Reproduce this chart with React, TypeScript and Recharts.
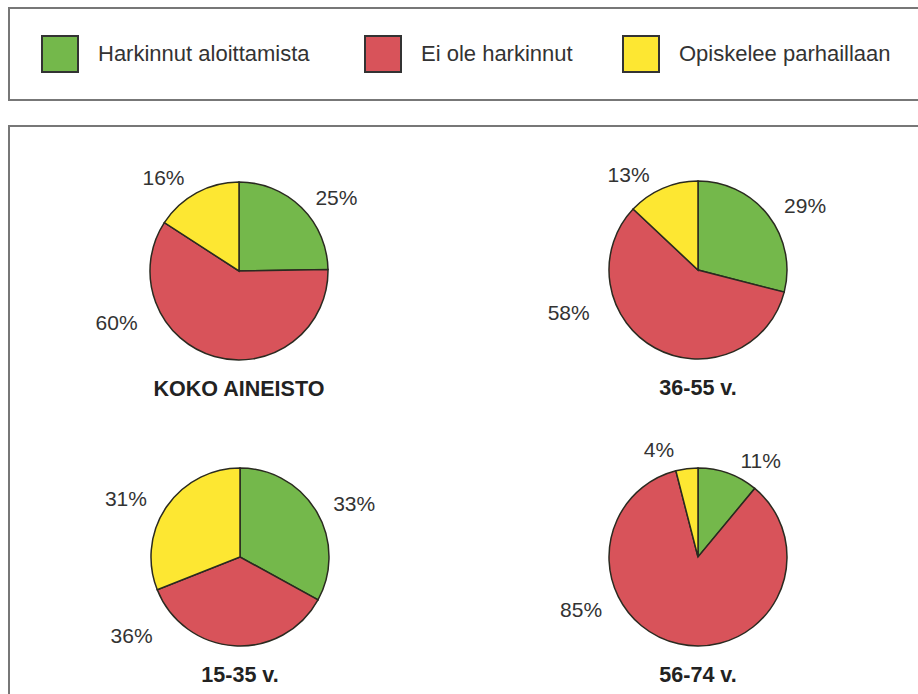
import { PieChart, Pie, Cell } from "recharts";

const categories = ["Harkinnut aloittamista", "Ei ole harkinnut", "Opiskelee parhaillaan"];
const groups = ["KOKO AINEISTO", "36-55 v.", "15-35 v.", "56-74 v."];
const kokoAineisto = [25, 60, 16];
const age36to55 = [29, 58, 13];
const age15to35 = [33, 36, 31];
const age56to74 = [11, 85, 4];

const colors = ["#74b84b", "#d8535a", "#fde732"];
const font = "'Liberation Sans', Arial, sans-serif";

// pie placement and hand-placed label spots (angle in degrees, distance from centre)
const pieCenters = [
  [239, 271],
  [698, 270],
  [240, 557],
  [698, 557],
];
const labelSpots = [
  [[37, 122], [203, 133], [129, 120]],
  [[31, 125], [198, 136], [126, 118]],
  [[25, 126], [216, 134], [153, 128]],
  [[57, 115], [204, 128], [110, 114]],
];

const series = [kokoAineisto, age36to55, age15to35, age56to74];

const RAD = Math.PI / 180;

function makeLabel(spots: number[][]) {
  return (props: any) => {
    const { cx, cy, index, value } = props;
    const [ang, dist] = spots[index];
    const x = cx + dist * Math.cos(ang * RAD);
    const y = cy - dist * Math.sin(ang * RAD);
    return (
      <text
        x={x}
        y={y}
        textAnchor="middle"
        dominantBaseline="central"
        fill="#333"
        fontSize={21}
        fontFamily={font}
      >
        {value}%
      </text>
    );
  };
}

export default function App() {
  return (
    <div style={{ position: "absolute", left: 0, top: 0, width: 918, height: 694, overflow: "hidden", background: "#fff" }}>
      {/* legend box */}
      <div
        style={{
          position: "absolute",
          left: 8,
          top: 7,
          width: 940,
          height: 90,
          border: "2px solid #777",
          boxSizing: "content-box",
        }}
      />
      {categories.map((c, i) => {
        const lefts = [41, 364, 622];
        return (
          <div key={c} style={{ position: "absolute", left: lefts[i], top: 35, height: 38, display: "flex", alignItems: "center" }}>
            <div style={{ width: 34, height: 34, background: colors[i], border: "2px solid #333" }} />
            <span style={{ marginLeft: 19, fontFamily: font, fontSize: 22, color: "#333" }}>{c}</span>
          </div>
        );
      })}
      {/* chart box */}
      <div
        style={{
          position: "absolute",
          left: 8,
          top: 125,
          width: 940,
          height: 600,
          border: "2px solid #777",
        }}
      />
      <div style={{ position: "absolute", left: 0, top: 0 }}>
        <PieChart width={918} height={694} margin={{ top: 0, right: 0, bottom: 0, left: 0 }}>
          {series.map((vals, p) => {
            const data = vals.map((v, i) => ({ name: categories[i], value: v }));
            return (
              <Pie
                key={groups[p]}
                data={data}
                dataKey="value"
                cx={pieCenters[p][0]}
                cy={pieCenters[p][1]}
                outerRadius={89}
                startAngle={90}
                endAngle={-270}
                stroke="#2a2a20"
                strokeWidth={1.5}
                labelLine={false}
                label={makeLabel(labelSpots[p])}
                isAnimationActive={false}
              >
                {data.map((d, i) => (
                  <Cell key={d.name} fill={colors[i]} />
                ))}
              </Pie>
            );
          })}
        </PieChart>
      </div>
      {groups.map((g, p) => (
        <div
          key={g}
          style={{
            position: "absolute",
            left: pieCenters[p][0] - 150,
            width: 300,
            top: pieCenters[p][1] + 106,
            textAlign: "center",
            fontFamily: font,
            fontWeight: "bold",
            fontSize: 21.5,
            color: "#222",
          }}
        >
          {g}
        </div>
      ))}
    </div>
  );
}
